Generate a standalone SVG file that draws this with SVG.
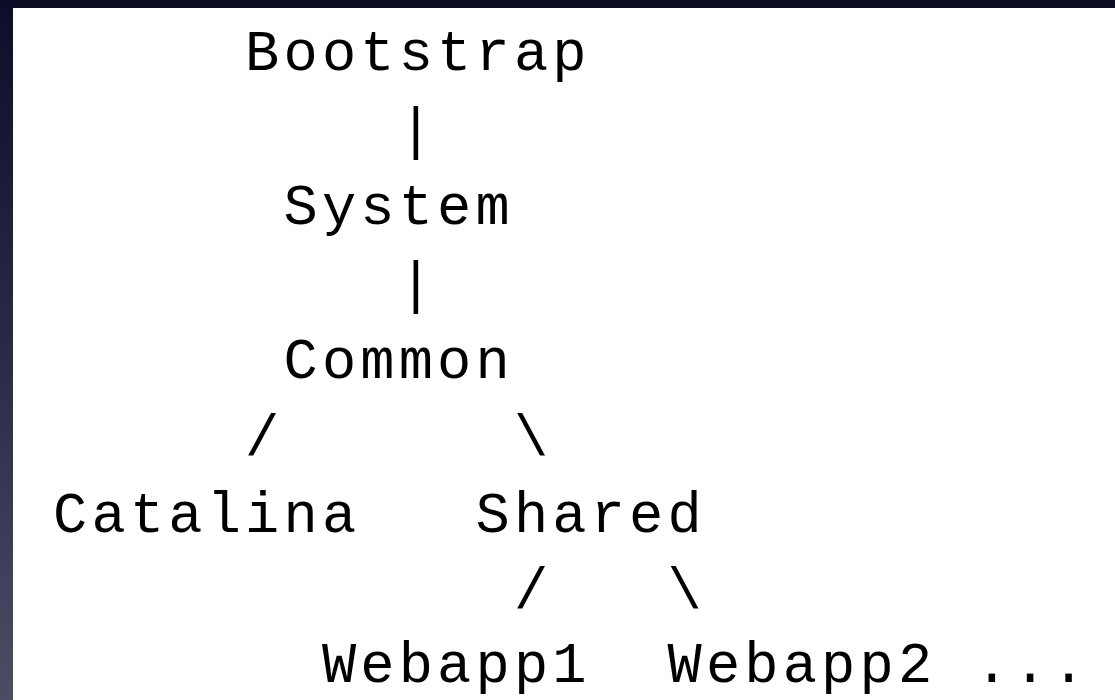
<svg xmlns="http://www.w3.org/2000/svg" width="1115" height="700" viewBox="0 0 1115 700">
  <defs>
    <linearGradient id="bg" x1="0" y1="0" x2="0" y2="1">
      <stop offset="0" stop-color="#0d0d28"/>
      <stop offset="0.5" stop-color="#2a2a48"/>
      <stop offset="1" stop-color="#4c4c64"/>
    </linearGradient>
    <style>
      text { font-family: "Liberation Mono", "Courier New", monospace; font-size: 57px; letter-spacing: 4.2px; fill: #000; }
    </style>
  </defs>
  <rect x="0" y="0" width="1115" height="700" fill="url(#bg)"/>
  <rect x="13" y="8" width="1102" height="692" fill="#ffffff"/>

  <g id="connectors">
    <text x="398.7" y="148">|</text>
    <text x="398.7" y="302">|</text>
    <text x="245.1" y="455">/</text>
    <text x="513.9" y="455">\</text>
    <text x="513.9" y="608">/</text>
    <text x="667.5" y="608">\</text>
  </g>

  <g id="node-bootstrap"><text x="245.1" y="70">Bootstrap</text></g>
  <g id="node-system"><text x="283.5" y="224">System</text></g>
  <g id="node-common"><text x="283.5" y="378">Common</text></g>
  <g id="node-catalina"><text x="53.1" y="532">Catalina</text></g>
  <g id="node-shared"><text x="475.5" y="532">Shared</text></g>
  <g id="node-webapp1"><text x="321.9" y="682">Webapp1</text></g>
  <g id="node-webapp2"><text x="667.5" y="682">Webapp2</text></g>
  <g id="node-more"><text x="974.7" y="682">...</text></g>
</svg>
